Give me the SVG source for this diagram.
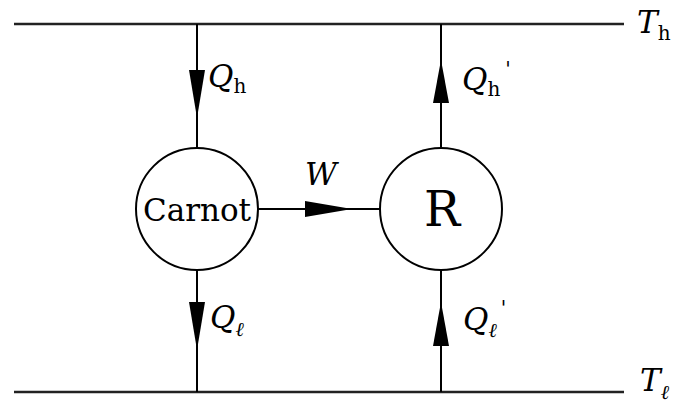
<svg xmlns="http://www.w3.org/2000/svg" width="675" height="410" viewBox="0 0 675 410">
<defs>
<style>
.ln{stroke:#000;stroke-width:2;fill:none}
.rail{stroke:#222;stroke-width:2.6;fill:none}
.nd{stroke:#000;stroke-width:2;fill:#fff}
.ah{fill:#000;stroke:none}
.t{font-family:'DejaVu Serif','Liberation Serif',serif}
.v{font-style:italic;font-size:31px}
.s{font-style:normal;font-size:20px}
.si{font-style:italic;font-size:20px}
.pr{font-style:normal;font-size:20px}
</style>
</defs>
<rect width="675" height="410" fill="#fff"/>
<g id="connectors">
<line class="rail" x1="14" y1="24" x2="624" y2="24"/>
<line class="rail" x1="14" y1="392" x2="624" y2="392"/>
<line class="ln" x1="197" y1="24" x2="197" y2="148"/>
<line class="ln" x1="197" y1="271" x2="197" y2="392"/>
<line class="ln" x1="441" y1="24" x2="441" y2="148"/>
<line class="ln" x1="441" y1="271" x2="441" y2="392"/>
<line class="ln" x1="258" y1="209" x2="380" y2="209"/>
<polygon class="ah" points="189,70 205,70 197,118"/>
<polygon class="ah" points="189,302 205,302 197,350"/>
<polygon class="ah" points="433,103 449,103 441,60"/>
<polygon class="ah" points="433,346 449,346 441,302"/>
<polygon class="ah" points="305,201 305,217 352,209"/>
</g>
<g id="carnot">
<circle class="nd" cx="197" cy="209" r="61"/>
<text class="t" x="197" y="221" font-size="31" text-anchor="middle">Carnot</text>
</g>
<g id="R">
<circle class="nd" cx="441" cy="209" r="61"/>
<text class="t" x="442" y="226" font-size="48" text-anchor="middle">R</text>
</g>
<g id="labels">
<text x="208" y="87" class="t v">Q<tspan class="s" dy="6">h</tspan></text>
<text x="462" y="90" class="t v">Q<tspan class="s" dy="6">h</tspan><tspan class="pr" dx="5" dy="-20">'</tspan></text>
<text x="210" y="328" class="t v">Q<tspan class="si" dy="8">ℓ</tspan></text>
<text x="463" y="330" class="t v">Q<tspan class="si" dy="7">ℓ</tspan><tspan class="pr" dx="4" dy="-22">'</tspan></text>
<text x="305" y="185" class="t v">W</text>
<text x="637" y="33" class="t v">T<tspan class="s" dy="7">h</tspan></text>
<text x="640" y="391" class="t v">T<tspan class="si" dy="8">ℓ</tspan></text>
</g>
</svg>
